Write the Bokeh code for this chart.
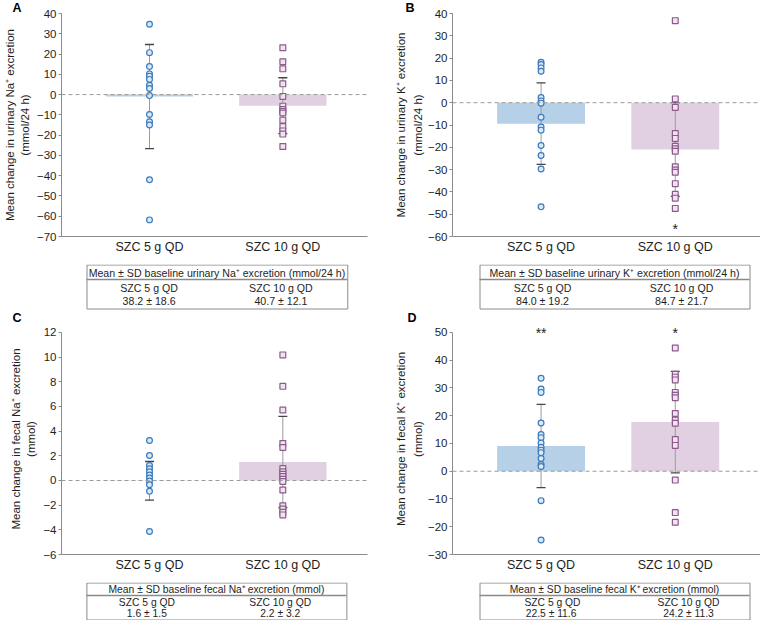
import numpy as np
from bokeh.plotting import figure
from bokeh.models import Range1d, FixedTicker, Span, ColumnDataSource, Title
from bokeh.layouts import column, row
from bokeh.embed import file_html
from bokeh.resources import INLINE
from bokeh.core.properties import value

# ---------------- data ----------------
groups = ["SZC 5 g QD", "SZC 10 g QD"]
group_pos = [1, 2]

# Panel A: urinary Na+
a_pts_5g = [34.7, 20.7, 13.8, 10.2, 9.1, 7.5, 4.6, 3.0, -0.5, -9.8, -13.4, -15.0, -42.0, -61.8]
a_pts_10g = [23.1, 16.2, 12.7, 5.3, -0.9, -5.7, -7.4, -8.3, -9.1, -12.6, -15.8, -17.9, -19.5, -25.6]
a_mean = [-1.0, -5.5]
a_sd = [25.7, 13.8]
a_ticks = [-70, -60, -50, -40, -30, -20, -10, 0, 10, 20, 30, 40]
a_star_pos, a_star_text, a_star_y = [], [], []
a_title = ["Mean change in urinary Na\u207a excretion", "(mmol/24 h)"]
a_head = "Mean \u00b1 SD baseline urinary Na\u207a excretion (mmol/24 h)"
a_vals = ["38.2 \u00b1 18.6", "40.7 \u00b1 12.1"]

# Panel B: urinary K+
b_pts_5g = [18.1, 17.1, 15.6, 14.1, 2.3, 0.8, -0.2, -6.5, -10.9, -12.3, -19.2, -23.7, -29.7, -46.7]
b_pts_10g = [36.8, 1.7, -2.1, -13.8, -16.0, -19.5, -20.7, -21.8, -28.7, -30.2, -31.2, -36.3, -41.1, -42.8, -47.4]
b_mean = [-9.4, -21.0]
b_sd = [18.3, 21.0]
b_ticks = [-60, -50, -40, -30, -20, -10, 0, 10, 20, 30, 40]
b_star_pos, b_star_text, b_star_y = [2], ["*"], [-55.5]
b_title = ["Mean change in urinary K\u207a excretion", "(mmol/24 h)"]
b_head = "Mean \u00b1 SD baseline urinary K\u207a excretion (mmol/24 h)"
b_vals = ["84.0 \u00b1 19.2", "84.7 \u00b1 21.7"]

# Panel C: fecal Na+
c_pts_5g = [3.24, 2.03, 1.22, 0.95, 0.7, 0.45, 0.2, -0.05, -0.35, -0.88, -4.13]
c_pts_10g = [10.18, 7.63, 5.71, 3.0, 2.68, 0.97, 0.71, 0.5, 0.32, 0.1, -0.08, -0.77, -2.05, -2.31, -2.58, -2.79]
c_mean = [-0.03, 1.5]
c_sd = [1.57, 3.7]
c_ticks = [-6, -4, -2, 0, 2, 4, 6, 8, 10, 12]
c_star_pos, c_star_text, c_star_y = [], [], []
c_title = ["Mean change in fecal Na\u207a excretion", "(mmol)"]
c_head = "Mean \u00b1 SD baseline fecal Na\u207a excretion (mmol)"
c_vals = ["1.6 \u00b1 1.5", "2.2 \u00b1 3.2"]

# Panel D: fecal K+
d_pts_5g = [33.5, 29.6, 28.4, 17.4, 13.2, 12.1, 10.2, 8.6, 7.6, 6.7, 4.6, 2.4, 1.7, -10.6, -24.8]
d_pts_10g = [44.4, 34.9, 33.9, 32.9, 28.4, 27.4, 26.5, 20.8, 18.4, 17.3, 11.4, 9.3, -3.2, -14.9, -18.4]
d_mean = [9.1, 17.7]
d_sd = [15.0, 18.3]
d_ticks = [-30, -20, -10, 0, 10, 20, 30, 40, 50]
d_star_pos, d_star_text, d_star_y = [1, 2], ["**", "*"], [50.8, 50.8]
d_title = ["Mean change in fecal K\u207a excretion", "(mmol)"]
d_head = "Mean \u00b1 SD baseline fecal K\u207a excretion (mmol)"
d_vals = ["22.5  \u00b1 11.6", "24.2 \u00b1 11.3"]

# ---------------- style ----------------
FONT = "Liberation Sans"
BAR_COLORS = ["#b6d0e8", "#e1d0e1"]
PT_LINE = ["#3b7bbd", "#8c5b8c"]
PT_FILL = ["#dbe8f5", "#efe3ef"]
PT_MARK = ["circle", "square"]
AXIS_C = "#8a8a8a"
TEXT_C = "#1e1e1e"


def make_panel(letter, titles, ticks, pad_px, pts, mean, sd, stars,
               W, H, bl, br, bt, bb, t_standoff, t_line_h, letter_off):
    x0, x1 = 0.34, 2.635
    fh = H - bt - bb
    y0 = ticks[0]
    # extend the range above the top tick by pad_px pixels (room for significance marks)
    y1 = ticks[-1] + (ticks[-1] - ticks[0]) * pad_px / (fh - pad_px)
    p = figure(width=W, height=H, x_range=Range1d(x0, x1), y_range=Range1d(y0, y1),
               output_backend="svg", toolbar_location=None,
               min_border_left=bl, min_border_right=br, min_border_top=bt, min_border_bottom=bb)
    p.outline_line_color = None
    p.grid.visible = False

    # bars
    p.vbar(x=group_pos, top=mean, bottom=0, width=0.655, fill_color=BAR_COLORS, line_color=None)
    p.add_layout(Span(location=0, dimension="width", line_color="#9a9a9a",
                      line_dash="4 3", line_width=1))
    upper = [m + s for m, s in zip(mean, sd)]
    lower = [m - s for m, s in zip(mean, sd)]
    p.segment(x0=group_pos, y0=lower, x1=group_pos, y1=upper, line_color="#9a9a9a", line_width=1)
    p.scatter(x=group_pos + group_pos, y=upper + lower, marker="dash", size=9,
              line_color="#444444", line_width=1.3)
    for gi, vals in enumerate(pts):
        src = ColumnDataSource(dict(x=[group_pos[gi]] * len(vals), y=vals))
        p.scatter("x", "y", source=src, marker=PT_MARK[gi], size=5.8,
                  line_color=PT_LINE[gi], fill_color=PT_FILL[gi], line_width=1.2)
    sp, st, sy = stars
    if sp:
        p.text(x=sp, y=sy, text=st, text_font=value(FONT), text_font_size="14px",
               text_align="center", text_baseline="middle", text_color=TEXT_C, y_offset=3)

    # axes
    ya = p.yaxis[0]
    ya.ticker = FixedTicker(ticks=ticks, minor_ticks=[])
    ya.bounds = (ticks[0], ticks[-1])
    ya.major_label_overrides = {t: str(t).replace("-", "\u2212") for t in ticks}
    ya.axis_line_color = AXIS_C
    ya.major_tick_line_color = AXIS_C
    ya.major_tick_out = 3
    ya.major_tick_in = 0
    ya.minor_tick_out = 0
    ya.minor_tick_in = 0
    ya.major_label_standoff = 2
    ya.major_label_text_font = FONT
    ya.major_label_text_font_size = "11.5px"
    ya.major_label_text_color = TEXT_C
    ya.axis_label = titles[0] + "\n" + titles[1]
    ya.axis_label_standoff = t_standoff
    ya.axis_label_text_font = FONT
    ya.axis_label_text_font_size = "11.5px"
    ya.axis_label_text_font_style = "normal"
    ya.axis_label_text_color = TEXT_C
    ya.axis_label_text_line_height = t_line_h
    ya.axis_label_text_align = "center"

    xa = p.xaxis[0]
    xa.ticker = FixedTicker(ticks=group_pos, minor_ticks=[])
    xa.major_label_overrides = {g: n for g, n in zip(group_pos, groups)}
    xa.axis_line_color = AXIS_C
    xa.major_tick_line_color = None
    xa.major_tick_out = 0
    xa.major_tick_in = 0
    xa.minor_tick_out = 0
    xa.minor_tick_in = 0
    xa.axis_label = None
    xa.axis_label_standoff = 0
    xa.major_label_standoff = 3
    xa.major_label_text_font = FONT
    xa.major_label_text_font_size = "12.5px"
    xa.major_label_text_color = TEXT_C

    p.add_layout(Title(text=letter, align="left", offset=letter_off, standoff=-3,
                       text_font=FONT, text_font_size="12.5px", text_font_style="bold",
                       text_color="#000000", text_line_height=0.7), "above")
    return p


def make_table(W, H, bl, br, bx0, bx1, by0, by1, div_y, head_y, body_y, col_x, header, vals, fsz):
    p = figure(width=W, height=H, x_range=Range1d(bl, W - br), y_range=Range1d(H, 0),
               output_backend="svg", toolbar_location=None,
               min_border_left=bl, min_border_right=br, min_border_top=0, min_border_bottom=0,
               x_axis_location=None, y_axis_location=None)
    p.outline_line_color = None
    p.grid.visible = False
    p.quad(left=bx0 + 0.5, right=bx1 + 0.5, top=by0, bottom=by1,
           fill_color=None, line_color=AXIS_C, line_width=1)
    p.segment(x0=bx0, y0=div_y, x1=bx1, y1=div_y, line_color=AXIS_C, line_width=1.6)
    p.text(x=[(bx0 + bx1) / 2], y=[head_y], text=[header], text_font=value(FONT),
           text_font_size=fsz, text_align="center", text_baseline="middle",
           text_color=TEXT_C)
    for gi in range(2):
        p.text(x=[col_x[gi]] * 2, y=list(body_y),
               text=[groups[gi], vals[gi]], text_font=value(FONT),
               text_font_size=fsz, text_align="center", text_baseline="middle",
               text_color=TEXT_C)
    return p


LW, RW = 380, 380
pA = make_panel("A", a_title, a_ticks, 0, [a_pts_5g, a_pts_10g], a_mean, a_sd,
                (a_star_pos, a_star_text, a_star_y),
                LW, 264, 49, 13, 8, 28, 3, 1.25, -49)
pB = make_panel("B", b_title, b_ticks, 0, [b_pts_5g, b_pts_10g], b_mean, b_sd,
                (b_star_pos, b_star_text, b_star_y),
                RW, 264, 72, 0, 8, 28, 1, 1.4, -47)
pC = make_panel("C", c_title, c_ticks, 9, [c_pts_5g, c_pts_10g], c_mean, c_sd,
                (c_star_pos, c_star_text, c_star_y),
                LW, 272, 49, 12, 12, 28, 3, 1.25, -49)
pD = make_panel("D", d_title, d_ticks, 9, [d_pts_5g, d_pts_10g], d_mean, d_sd,
                (d_star_pos, d_star_text, d_star_y),
                RW, 272, 72, 0, 12, 28, 1, 1.4, -45)

tA = make_table(LW, 46, 49, 13, 75, 346, 0.5, 44.5, 15, 8, (23, 36.5), (140, 277), a_head, a_vals, "10.6px")
tB = make_table(RW, 46, 72, 0, 99, 369, 0.5, 44.5, 15, 8, (23, 36.5), (162, 301), b_head, b_vals, "10.6px")
tC = make_table(LW, 38, 49, 12, 75, 346, 0.5, 37.5, 13, 7, (20, 31), (138, 277), c_head, c_vals, "10.3px")
tD = make_table(RW, 38, 72, 0, 99, 369, 0.5, 37.5, 13, 7, (20, 31), (172, 308), d_head, d_vals, "10.3px")

layout = row(column(pA, tA, pC, tC), column(pB, tB, pD, tD))

open("out.html", "w").write(file_html(layout, INLINE))
